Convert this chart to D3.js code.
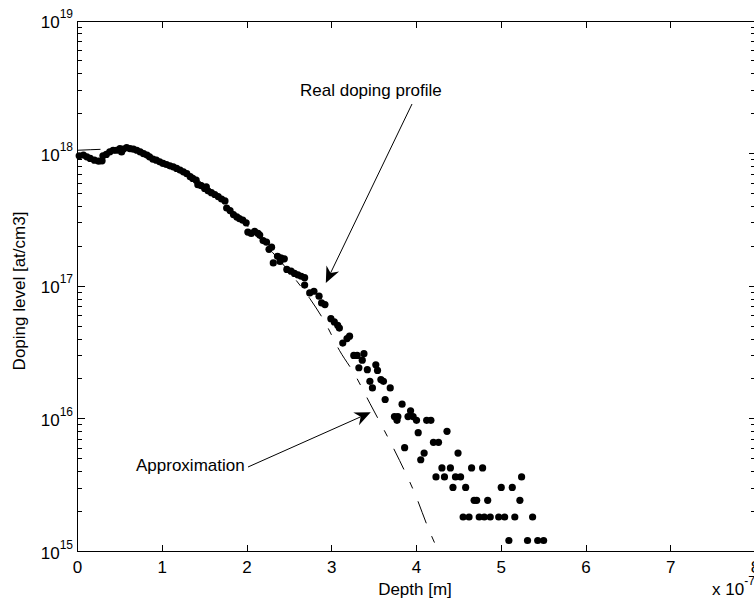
<!DOCTYPE html>
<html>
<head>
<meta charset="utf-8">
<script src="https://cdn.jsdelivr.net/npm/d3@7"></script>
<style>
  html, body { margin: 0; padding: 0; background: #fff; }
  svg { display: block; font-family: "Liberation Sans", Arial, Helvetica, sans-serif; }
</style>
</head>
<body>
<svg id="chart" width="754" height="610"></svg>
<script>
// Measured doping profile. Depth in units of 1e-7 m, doping in at/cm3.
const depth = [
  0.02, 0.07, 0.11, 0.15, 0.20, 0.25, 0.29, 0.30, 0.34, 0.38,
  0.42, 0.46, 0.50, 0.52, 0.54, 0.58, 0.62, 0.66, 0.70, 0.74,
  0.78, 0.82, 0.85, 0.89, 0.93, 0.97, 1.01, 1.05, 1.09, 1.13,
  1.17, 1.21, 1.25, 1.29, 1.33, 1.36, 1.40, 1.42, 1.46, 1.50,
  1.52, 1.54, 1.58, 1.62, 1.66, 1.70, 1.74, 1.76, 1.80, 1.84,
  1.88, 1.91, 1.95, 1.99, 2.01, 2.05, 2.09, 2.13, 2.15, 2.19,
  2.23, 2.26, 2.29, 2.31, 2.36, 2.39, 2.40, 2.44, 2.47, 2.52,
  2.56, 2.60, 2.64, 2.68,
  2.68, 2.74, 2.79, 2.85, 2.88, 2.92, 2.99, 3.03, 3.07, 3.09,
  3.21, 3.18, 3.13, 3.26, 3.30, 3.38, 3.36, 3.32, 3.42, 3.52,
  3.54, 3.45, 3.58, 3.61, 3.48, 3.69, 3.63,
  3.83, 3.74, 3.78, 3.77, 3.93, 3.90, 3.96, 4.00, 4.12, 4.17,
  4.02, 4.36, 3.86, 4.20, 4.26, 4.09, 4.49, 4.05,
  4.30, 4.40, 4.65, 4.78,
  4.23, 4.33, 4.46, 4.52, 5.24,
  4.43, 4.58, 5.00, 5.13,
  4.68, 4.71, 4.84, 5.22,
  4.55, 4.62, 4.74, 4.80, 4.87, 4.97, 5.04, 5.16, 5.37,
  5.09, 5.31, 5.43, 5.50
];
const doping = [
  9.62e17, 9.75e17, 9.46e17, 9.20e17, 8.93e17, 8.77e17, 8.82e17, 9.62e17, 9.86e17, 1.03e18,
  1.06e18, 1.06e18, 1.09e18, 1.03e18, 1.08e18, 1.11e18, 1.09e18, 1.08e18, 1.06e18, 1.03e18,
  1.00e18, 9.75e17, 9.46e17, 9.08e17, 8.93e17, 8.67e17, 8.43e17, 8.28e17, 8.09e17, 7.95e17,
  7.73e17, 7.51e17, 7.29e17, 7.06e17, 6.70e17, 6.50e17, 6.31e17, 5.83e17, 5.73e17, 5.46e17,
  5.61e17, 5.24e17, 5.08e17, 4.92e17, 4.74e17, 4.55e17, 4.40e17, 3.89e17, 3.72e17, 3.47e17,
  3.33e17, 3.24e17, 3.15e17, 3.01e17, 2.56e17, 2.50e17, 2.59e17, 2.50e17, 2.43e17, 2.21e17,
  2.15e17, 1.90e17, 1.97e17, 1.50e17, 1.68e17, 1.54e17, 1.64e17, 1.61e17, 1.34e17, 1.30e17,
  1.25e17, 1.22e17, 1.19e17, 1.16e17,
  1.02e17, 8.90e16, 9.17e16, 8.41e16, 7.48e16, 7.28e16, 5.70e16, 5.38e16, 5.08e16, 4.84e16,
  4.20e16, 4.03e16, 3.73e16, 3.01e16, 3.01e16, 3.10e16, 2.77e16, 2.43e16, 2.35e16, 2.56e16,
  2.32e16, 1.92e16, 1.98e16, 1.92e16, 1.71e16, 1.71e16, 1.40e16,
  1.29e16, 1.04e16, 1.04e16, 9.75e15, 1.15e16, 1.04e16, 1.04e16, 9.75e15, 9.75e15, 9.75e15,
  7.87e15, 8.05e15, 6.06e15, 6.65e15, 6.65e15, 5.52e15, 5.52e15, 4.92e15,
  4.27e15, 4.27e15, 4.27e15, 4.27e15,
  3.65e15, 3.65e15, 3.65e15, 3.65e15, 3.65e15,
  3.04e15, 3.04e15, 3.04e15, 3.04e15,
  2.43e15, 2.43e15, 2.43e15, 2.43e15,
  1.82e15, 1.82e15, 1.82e15, 1.82e15, 1.82e15, 1.82e15, 1.82e15, 1.82e15, 1.82e15,
  1.21e15, 1.21e15, 1.21e15, 1.21e15
];

// Approximated profile
const approxDepth  = [0, 0.15, 0.32, 0.50, 0.68, 0.97, 1.44, 2.03, 2.56, 2.74, 2.92, 3.09, 3.27, 3.45, 3.62, 3.80, 3.98, 4.15, 4.26];
const approxDoping = [1.06e18, 1.07e18, 1.08e18, 1.09e18, 1.09e18, 8.7e17, 6.2e17, 2.74e17, 1.15e17, 8.1e16, 5.35e16, 3.29e16, 2.17e16, 1.31e16, 8.18e15, 4.86e15, 2.74e15, 1.44e15, 1.0e15];

const xTicks = [0, 1, 2, 3, 4, 5, 6, 7, 8];
const yDecades = [15, 16, 17, 18, 19];

// Annotations: label text plus arrow tip in data units
const annotations = [
  { text: "Real doping profile", tipDepth: 2.93, tipDoping: 1.06e17, tx: 300, ty: 96, sx: 412, sy: 104 },
  { text: "Approximation",       tipDepth: 3.46, tipDoping: 1.12e16, tx: 136, ty: 471, sx: 248, sy: 467 }
];

const L = 77.5, R = 755.5, T = 21, B = 551.5;
const x = d3.scaleLinear().domain([0, 8]).range([L, R]);
const y = d3.scaleLog().domain([1e15, 1e19]).range([B, T]);

const svg = d3.select("#chart");

svg.append("defs").append("clipPath").attr("id", "plotclip")
  .append("rect").attr("x", L).attr("y", T).attr("width", R - L).attr("height", B - T);

const axes = svg.append("g").attr("stroke", "#000").attr("stroke-width", 1).attr("shape-rendering", "crispEdges");

// Frame
axes.append("rect").attr("x", L).attr("y", T).attr("width", R - L).attr("height", B - T).attr("fill", "none");

// X ticks (bottom and top, pointing inward)
const innerX = xTicks.filter(d => d > 0 && d < 8);
innerX.forEach(d => {
  axes.append("line").attr("x1", x(d)).attr("x2", x(d)).attr("y1", B).attr("y2", B - 7);
  axes.append("line").attr("x1", x(d)).attr("x2", x(d)).attr("y1", T).attr("y2", T + 7);
});

// Y ticks (major and minor, left and right, pointing inward)
const minorVals = [];
yDecades.slice(0, -1).forEach(k => { for (let m = 2; m <= 9; m++) minorVals.push(m * Math.pow(10, k)); });
yDecades.slice(1, -1).forEach(k => {
  const v = Math.pow(10, k);
  axes.append("line").attr("x1", L).attr("x2", L + 7).attr("y1", y(v)).attr("y2", y(v));
  axes.append("line").attr("x1", R).attr("x2", R - 7).attr("y1", y(v)).attr("y2", y(v));
});
minorVals.forEach(v => {
  axes.append("line").attr("x1", L).attr("x2", L + 4.5).attr("y1", y(v)).attr("y2", y(v));
  axes.append("line").attr("x1", R).attr("x2", R - 4.5).attr("y1", y(v)).attr("y2", y(v));
});

// X tick labels
svg.append("g").selectAll("text").data(xTicks).join("text")
  .attr("x", d => x(d)).attr("y", 572.5)
  .attr("text-anchor", "middle").attr("font-size", 17).attr("fill", "#000")
  .text(d => d);

// Y tick labels: 10^k
const yl = svg.append("g").selectAll("text").data(yDecades).join("text")
  .attr("x", 73).attr("y", d => y(Math.pow(10, d)) + 7)
  .attr("text-anchor", "end").attr("font-size", 17).attr("fill", "#000");
yl.append("tspan").text("10");
yl.append("tspan").attr("font-size", 12).attr("dy", -10).text(d => d);

// Axis multiplier
const mult = svg.append("text").attr("x", 712).attr("y", 595).attr("font-size", 17).attr("fill", "#000");
mult.append("tspan").text("x 10");
mult.append("tspan").attr("font-size", 12).attr("dy", -10).text("-7");

// Axis titles
svg.append("text").attr("x", 415).attr("y", 595).attr("text-anchor", "middle")
  .attr("font-size", 17).attr("fill", "#000").text("Depth [m]");
svg.append("text").attr("transform", "translate(25,291) rotate(-90)")
  .attr("text-anchor", "middle").attr("font-size", 17).attr("fill", "#000").text("Doping level [at/cm3]");

// Approximation (dash-dot line)
const approx = approxDepth.map((d, i) => [d, approxDoping[i]]);
svg.append("path").datum(approx)
  .attr("clip-path", "url(#plotclip)")
  .attr("fill", "none").attr("stroke", "#000").attr("stroke-width", 1)
  .attr("stroke-dasharray", "23,14,7,14")
  .attr("d", d3.line().x(d => x(d[0])).y(d => y(d[1])).curve(d3.curveMonotoneX));

// Measured points
const pts = depth.map((d, i) => [d, doping[i]]);
svg.append("g").selectAll("circle").data(pts).join("circle")
  .attr("cx", d => x(d[0])).attr("cy", d => y(d[1])).attr("r", 3.6).attr("fill", "#000");

// Annotation labels and arrows
annotations.forEach(a => {
  svg.append("text").attr("x", a.tx).attr("y", a.ty).attr("font-size", 17).attr("fill", "#000").text(a.text);
  const tx = x(a.tipDepth), ty = y(a.tipDoping);
  const dx = a.sx - tx, dy = a.sy - ty, len = Math.hypot(dx, dy);
  const ux = dx / len, uy = dy / len, px = -uy, py = ux;
  const hl = 16, hw = 7, notch = 11;
  svg.append("line").attr("x1", a.sx).attr("y1", a.sy)
    .attr("x2", tx + ux * notch).attr("y2", ty + uy * notch)
    .attr("stroke", "#000").attr("stroke-width", 1);
  const head = [
    [tx, ty],
    [tx + ux * hl + px * hw, ty + uy * hl + py * hw],
    [tx + ux * notch, ty + uy * notch],
    [tx + ux * hl - px * hw, ty + uy * hl - py * hw]
  ];
  svg.append("path").attr("d", "M" + head.map(p => p.join(",")).join("L") + "Z").attr("fill", "#000");
});
</script>
</body>
</html>
